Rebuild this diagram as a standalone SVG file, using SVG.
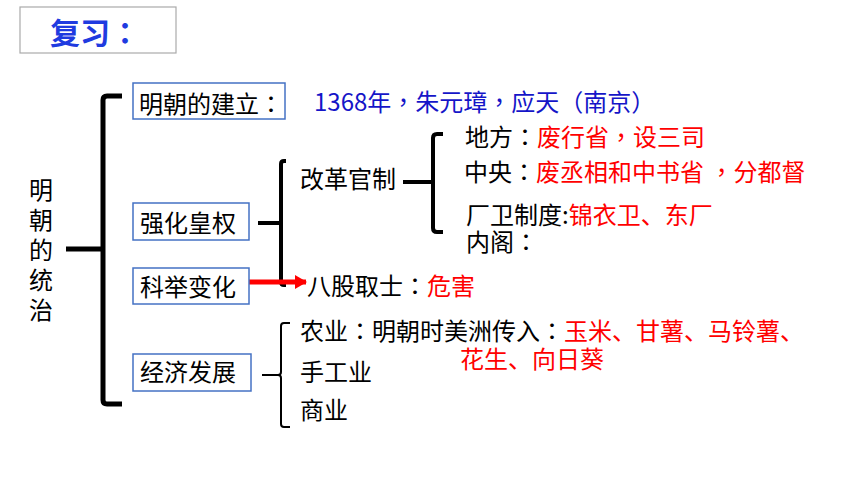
<svg xmlns="http://www.w3.org/2000/svg" width="860" height="484" viewBox="0 0 860 484">
<defs>
<style>
text{font-family:"Noto Sans CJK SC","Noto Sans",sans-serif;font-size:24px;fill:#000}
.p{font-family:"Noto Sans CJK TC","Noto Sans CJK SC",sans-serif}
.r{fill:#ff0000}
.b{fill:#1515c8}
.box{fill:#fff;stroke:#4472c4;stroke-width:1.5}
.br{fill:none;stroke:#000;stroke-linecap:butt;stroke-linejoin:round}
</style>
<marker id="ah" markerUnits="userSpaceOnUse" markerWidth="12" markerHeight="14" refX="11" refY="7" orient="auto">
<path d="M0,0 L12,7 L0,14 Z" fill="#ff0000"/>
</marker>
</defs>
<rect width="860" height="484" fill="#fff"/>
<g id="title">
<rect x="20" y="7" width="156" height="46" fill="#fff" stroke="#aaaaaa" stroke-width="1.2"/>
<text x="50" y="44" style="font-size:30px;font-weight:bold;fill:#1f3be0">复习<tspan class="p">：</tspan></text>
</g>
<g id="connectors">
<path class="br" stroke-width="5" d="M122,96 L107,96 Q103,96 103,100 L103,400 Q103,404 107,404 L122,404"/>
<path class="br" stroke-width="5" d="M66,249 L103,249"/>
<path class="br" stroke-width="4" d="M286,161 L284,161 Q281,161 281,164 L281,282 Q281,285 284,285 L286,285"/>
<path class="br" stroke-width="4" d="M258,223 L281,223"/>
<path class="br" stroke-width="4" d="M443,134 L437,134 Q433,134 433,138 L433,228 Q433,232 437,232 L443,232"/>
<path class="br" stroke-width="4" d="M403,182 L433,182"/>
<path class="br" stroke-width="2" d="M290,323 L284,323 Q281,323 281,326 L281,372 Q281,375 278,375 Q281,375 281,378 L281,424 Q281,427 284,427 L290,427"/>
<path class="br" stroke-width="2" d="M262,375 L278,375"/>
<path d="M243,282 L306,282" stroke="#ff0000" stroke-width="5" marker-end="url(#ah)"/>
</g>
<g id="root">
<text x="29" y="199">明</text>
<text x="29" y="229">朝</text>
<text x="29" y="259">的</text>
<text x="29" y="289">统</text>
<text x="29" y="319">治</text>
</g>
<g id="n-founding">
<rect class="box" x="133" y="83" width="152" height="36"/>
<text x="139" y="113">明朝的建立<tspan class="p">：</tspan></text>
<text class="b" x="314" y="111">1368年<tspan class="p">，</tspan>朱元璋<tspan class="p">，</tspan>应天（南京）</text>
</g>
<g id="n-power">
<rect class="box" x="133" y="203" width="116" height="37"/>
<text x="140" y="232">强化皇权</text>
</g>
<g id="n-reform">
<text x="300" y="188">改革官制</text>
</g>
<g id="n-local">
<text x="465" y="146">地方<tspan class="p">：</tspan><tspan class="r">废行省<tspan class="p">，</tspan>设三司</tspan></text>
</g>
<g id="n-central">
<text x="464" y="181">中央<tspan class="p">：</tspan><tspan class="r">废丞相和中书省 <tspan class="p">，</tspan>分都督</tspan></text>
</g>
<g id="n-changwei">
<text x="466" y="224">厂卫制度:<tspan class="r">锦衣卫、东厂</tspan></text>
</g>
<g id="n-neige">
<text x="466" y="251">内阁<tspan class="p">：</tspan></text>
</g>
<g id="n-exam">
<rect class="box" x="133" y="268" width="116" height="36"/>
<text x="140" y="296">科举变化</text>
</g>
<g id="n-bagu">
<text x="307" y="295">八股取士<tspan class="p">：</tspan><tspan class="r">危害</tspan></text>
</g>
<g id="n-economy">
<rect class="box" x="133" y="354" width="118" height="37"/>
<text x="140" y="381">经济发展</text>
</g>
<g id="n-agri">
<text x="300" y="340">农业<tspan class="p">：</tspan>明朝时美洲传入<tspan class="p">：</tspan><tspan class="r">玉米、甘薯、马铃薯、</tspan></text>
<text class="r" x="460" y="368">花生、向日葵</text>
</g>
<g id="n-craft">
<text x="300" y="381">手工业</text>
</g>
<g id="n-commerce">
<text x="300" y="419">商业</text>
</g>
</svg>
